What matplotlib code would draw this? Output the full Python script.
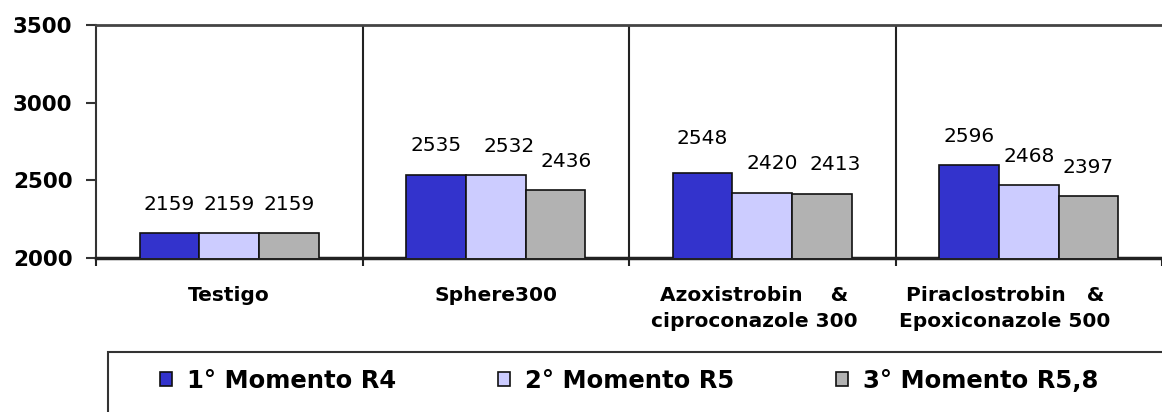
import numpy as np
import matplotlib.pyplot as plt
from matplotlib.patches import Rectangle
from matplotlib.transforms import ScaledTranslation

# Data
categories = ['Testigo', 'Sphere300', 'Azoxistrobin    &\nciproconazole 300',
              'Piraclostrobin   &\nEpoxiconazole 500']
series_names = ['1° Momento R4', '2° Momento R5', '3° Momento R5,8']
momento_r4 = [2159, 2535, 2548, 2596]
momento_r5 = [2159, 2532, 2420, 2468]
momento_r58 = [2159, 2436, 2413, 2397]
colors = ['#3333CC', '#CCCCFF', '#B2B2B2']

# small label nudges in pixels (group, series) -> (dx, dy)
nudges = {(1, 1): (13, 0), (1, 2): (11, 0), (2, 1): (10, 0), (2, 2): (13, 0),
          (2, 0): (0, 5)}
cat_nudges = [0, 0, -8, -24]

W, H = 1162, 412
fig = plt.figure(figsize=(W / 100, H / 100), dpi=100)
ax = fig.add_axes([96 / W, 1 - 258 / H, 1 - 96 / W, (258 - 25) / H])

x = np.arange(len(categories))
width = 0.224
values = [momento_r4, momento_r5, momento_r58]
bars = []
for i, vals in enumerate(values):
    b = ax.bar(x + (i - 1) * width, vals, width, bottom=0, color=colors[i],
               edgecolor='#111111', linewidth=1.2, label=series_names[i], zorder=3)
    bars.append(b)
    for j, rect in enumerate(b):
        dx, dy = nudges.get((j, i), (0, 0))
        ax.annotate(str(vals[j]), (rect.get_x() + rect.get_width() / 2, vals[j]),
                    xytext=(dx * 0.72, 21 + dy * 0.72), textcoords='offset points',
                    ha='center', va='center', fontsize=14.5, color='black')

ax.set_ylim(2000, 3500)
ax.set_xlim(-0.5, (W - 96) / 268 - 0.5)
ax.set_yticks([2000, 2500, 3000, 3500])
ax.tick_params(axis='y', length=7, width=1.5, pad=10, labelsize=15.5, color='#333333')
for lab in ax.get_yticklabels():
    lab.set_fontweight('bold')

# category boundaries
bounds = np.arange(len(categories) + 1) - 0.5
for b in bounds[1:-1]:
    ax.axvline(b, color='#222222', lw=1.5, zorder=2)
ax.set_xticks(bounds, minor=True)
ax.tick_params(axis='x', which='minor', length=6, width=1.5, color='#222222')
ax.set_xticks(x)
ax.set_xticklabels(categories, fontsize=14.5, fontweight='bold', linespacing=1.45)
ax.tick_params(axis='x', which='major', length=0, pad=20)
for lab, dx in zip(ax.get_xticklabels(), cat_nudges):
    lab.set_transform(lab.get_transform() + ScaledTranslation(dx / 100, 0, fig.dpi_scale_trans))

ax.spines['right'].set_visible(False)
ax.spines['top'].set_color('#444444')
ax.spines['top'].set_linewidth(2)
ax.spines['left'].set_color('#333333')
ax.spines['left'].set_linewidth(1.5)
ax.spines['bottom'].set_color('#222222')
ax.spines['bottom'].set_linewidth(2.5)
ax.set_zorder(2)

# legend box, open to the right and bottom
fig.patches.append(Rectangle((108 / W, -0.1), 1.0, 0.1 + (H - 352) / H,
                             transform=fig.transFigure, fill=False,
                             edgecolor='#333333', lw=1.5))
fig.legend(handles=bars, labels=series_names, ncol=3, loc='center left',
           bbox_to_anchor=(160 / W, 1 - 381 / H), frameon=False,
           prop={'weight': 'bold', 'size': 17.5}, handlelength=0.5, handleheight=0.5,
           handletextpad=0.6, columnspacing=4.2, borderpad=0, borderaxespad=0)

fig.savefig('out.png', dpi=100)
